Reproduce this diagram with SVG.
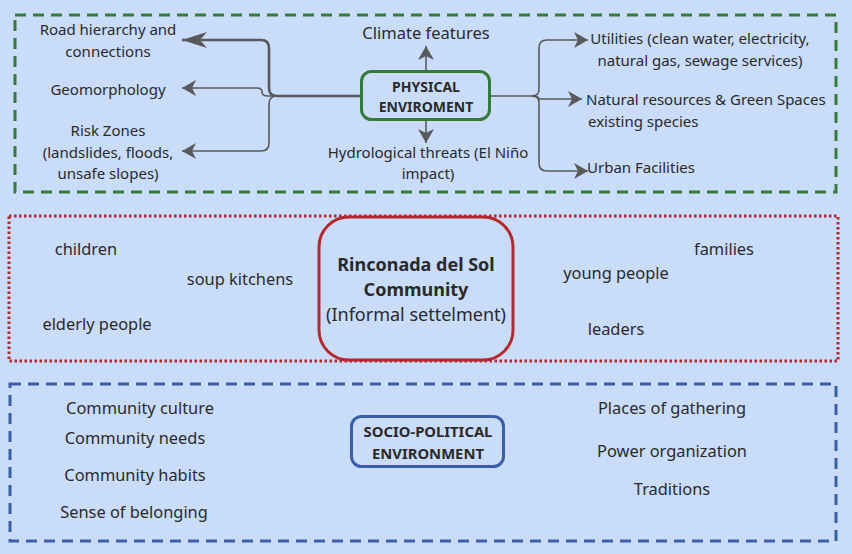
<svg xmlns="http://www.w3.org/2000/svg" width="852" height="554" viewBox="0 0 852 554">
<defs>
<marker id="ah" viewBox="0 0 25 16" refX="25" refY="8" markerWidth="25" markerHeight="16" markerUnits="userSpaceOnUse" orient="auto">
<path d="M0,0 L25,8 L0,16 L7,8 Z" fill="#595959"/>
</marker>
<marker id="ahs" viewBox="0 0 14 16" refX="14" refY="8" markerWidth="14" markerHeight="16" markerUnits="userSpaceOnUse" orient="auto">
<path d="M0,0 L14,8 L0,16 L4,8 Z" fill="#595959"/>
</marker>
</defs>
<style>
text{font-family:"Noto Sans","Open Sans",sans-serif;fill:#2a2a2a;font-size:15px}
.c{text-anchor:middle}
.b{font-weight:bold}
.cond{font-size:16.4px}
.con{fill:none;stroke:#595959;stroke-width:1.6}
.thick{stroke-width:2.6}
</style>
<rect width="852" height="554" fill="#c9dcfa"/>

<rect id="physical-frame" x="15" y="15" width="821" height="177" fill="none" stroke="#367a38" stroke-width="3" stroke-dasharray="11,7"/>
<rect id="community-frame" x="9" y="216" width="829" height="145" fill="none" stroke="#b8282a" stroke-width="3" stroke-dasharray="2.5,2.5"/>
<rect id="socio-frame" x="10" y="384" width="826" height="157" fill="none" stroke="#3a5ea8" stroke-width="3" stroke-dasharray="11,7"/>

<g id="connectors">
<path class="con thick" d="M361,96 L277,96 Q269,96 269,88 L269,48 Q269,40 261,40 L182,40" marker-end="url(#ah)"/>
<path class="con" d="M277,96 L268,96 Q262,96 262,92 Q262,88 257,88 L182,88" marker-end="url(#ahs)"/>
<path class="con" d="M277,96 Q269,96 269,104 L269,143 Q269,151 261,151 L182,151" marker-end="url(#ahs)"/>
<path class="con" d="M426,71 L426,46" marker-end="url(#ahs)"/>
<path class="con" d="M426,120 L426,143" marker-end="url(#ahs)"/>
<path class="con" d="M490,96 L532,96 Q539,96 539,89 L539,48 Q539,40 547,40 L588,40" marker-end="url(#ahs)"/>
<path class="con" d="M532,96 Q539,96 539,99 L582,99" marker-end="url(#ahs)"/>
<path class="con" d="M532,96 Q539,96 539,103 L539,163 Q539,171 547,171 L588,171" marker-end="url(#ahs)"/>
</g>

<g id="physical">
<rect x="361.5" y="71.5" width="128" height="48" rx="10" fill="#c9dcfa" stroke="#367a38" stroke-width="3"/>
<text class="c b" x="426" y="92" style="font-size:14px">PHYSICAL</text>
<text class="c b" x="426" y="112" style="font-size:14px">ENVIROMENT</text>
</g>
<g id="road"><text class="c" x="108" y="35">Road hierarchy and</text><text class="c" x="108" y="57">connections</text></g>
<g id="geomorphology"><text class="c" x="108" y="95">Geomorphology</text></g>
<g id="risk"><text class="c" x="108" y="136">Risk Zones</text><text class="c" x="108" y="158">(landslides, floods,</text><text class="c" x="108" y="179">unsafe slopes)</text></g>
<g id="climate"><text class="c" x="426" y="39" style="font-size:16.5px">Climate features</text></g>
<g id="hydro"><text class="c" x="428" y="158">Hydrological threats (El Niño</text><text class="c" x="428" y="179">impact)</text></g>
<g id="utilities"><text class="c" x="700" y="44">Utilities (clean water, electricity,</text><text class="c" x="700" y="66">natural gas, sewage services)</text></g>
<g id="natural"><text x="586" y="105">Natural resources &amp; Green Spaces</text><text x="588" y="127">existing species</text></g>
<g id="urban"><text x="587" y="173">Urban Facilities</text></g>

<g id="community">
<rect x="319" y="217" width="194" height="143" rx="30" fill="#c9dcfa" stroke="#b8282a" stroke-width="3"/>
<text class="c b" x="416" y="271" style="font-size:18px">Rinconada del Sol</text>
<text class="c b" x="416" y="296" style="font-size:18px">Community</text>
<text class="c" x="416" y="321" style="font-size:18px">(Informal settelment)</text>
</g>
<g id="children"><text class="c cond" x="86" y="255">children</text></g>
<g id="soup"><text class="c cond" x="240" y="285">soup kitchens</text></g>
<g id="elderly"><text class="c cond" x="97" y="330">elderly people</text></g>
<g id="families"><text class="c cond" x="724" y="255">families</text></g>
<g id="young"><text class="c cond" x="616" y="279">young people</text></g>
<g id="leaders"><text class="c cond" x="616" y="335">leaders</text></g>

<g id="socio">
<rect x="351.5" y="416.5" width="152" height="50" rx="10" fill="#c9dcfa" stroke="#3a5ea8" stroke-width="3"/>
<text class="c b" x="428" y="437" style="font-size:14.8px">SOCIO-POLITICAL</text>
<text class="c b" x="428" y="459" style="font-size:14.8px">ENVIRONMENT</text>
</g>
<g id="culture"><text class="c cond" x="140" y="414">Community culture</text></g>
<g id="needs"><text class="c cond" x="135" y="444">Community needs</text></g>
<g id="habits"><text class="c cond" x="135" y="481">Community habits</text></g>
<g id="belonging"><text class="c cond" x="134" y="518">Sense of belonging</text></g>
<g id="places"><text class="c cond" x="672" y="414">Places of gathering</text></g>
<g id="power"><text class="c cond" x="672" y="457">Power organization</text></g>
<g id="traditions"><text class="c cond" x="672" y="495">Traditions</text></g>
</svg>
